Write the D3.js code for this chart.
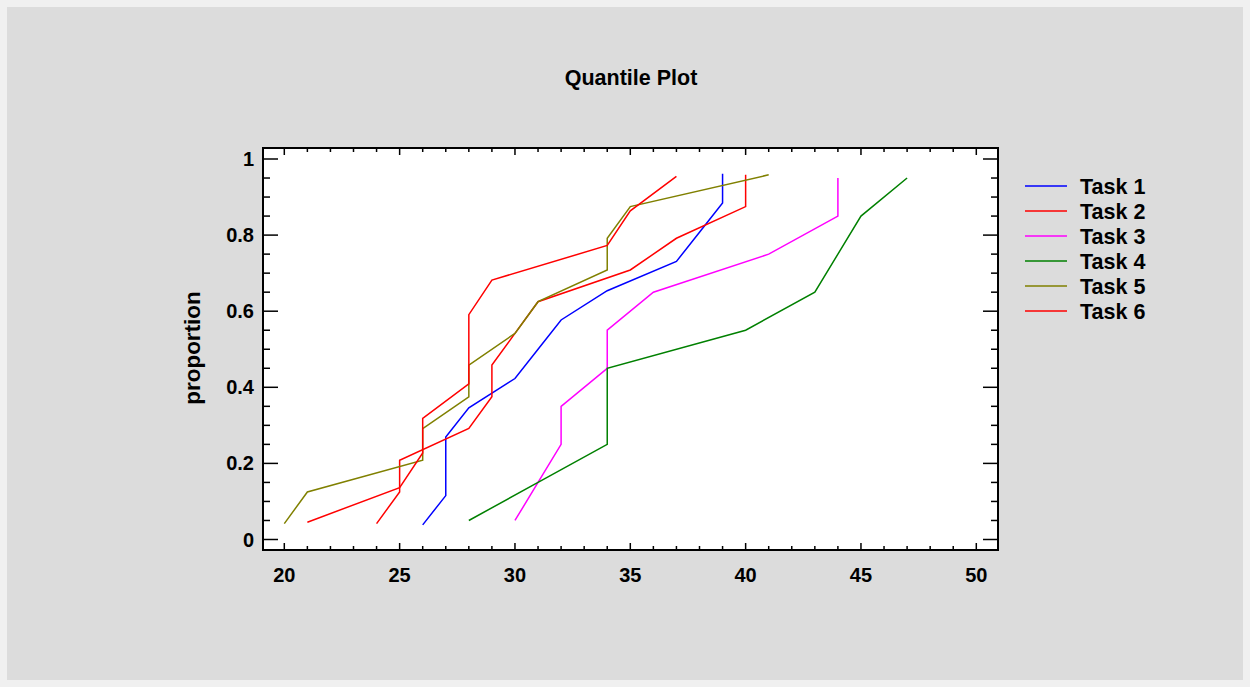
<!DOCTYPE html>
<html lang="en">
<head>
  <meta charset="UTF-8">
  <title>Quantile Plot</title>
  <style type="text/css">
    body {
      margin: 0;
      background: #f0f0f0;
    }
    svg text {
      font-family: "Liberation Sans", Arial, sans-serif;
      font-weight: bold;
      fill: #000;
    }
  </style>
</head>
<body>
  <svg id="chart" width="1250" height="687"></svg>

<script src="https://d3js.org/d3.v7.min.js"></script>
<script>
  // sorted observations for each task
  const task1 = [26, 27, 27, 27, 28, 30, 31, 32, 34, 37, 38, 39, 39]
  const task2 = [24, 25, 25, 28, 29, 29, 30, 31, 35, 37, 40, 40]
  const task3 = [30, 31, 32, 32, 34, 34, 36, 41, 44, 44]
  const task4 = [28, 31, 34, 34, 34, 40, 43, 44, 45, 47]
  const task5 = [20, 21, 26, 26, 28, 28, 30, 31, 34, 34, 35, 41]
  const task6 = [21, 25, 26, 26, 28, 28, 28, 29, 34, 35, 37]

  const seriesNames = ['Task 1', 'Task 2', 'Task 3', 'Task 4', 'Task 5', 'Task 6']
  const seriesColors = ['#0000ff', '#ff0000', '#ff00ff', '#008000', '#808000', '#ff0000']
  const xTicks = [20, 25, 30, 35, 40, 45, 50]
  const yTicks = [0, 0.2, 0.4, 0.6, 0.8, 1]

  const allSeries = [task1, task2, task3, task4, task5, task6]

  const svg = d3.select('#chart')

  // grey panel
  svg.append('rect')
    .attr('x', 7).attr('y', 7)
    .attr('width', 1236).attr('height', 673)
    .attr('fill', '#dcdcdc')

  const frame = { left: 263, right: 998, top: 148, bottom: 550 }

  const x = d3.scaleLinear().domain([20, 50]).range([284.3, 976.3])
  const y = d3.scaleLinear().domain([0, 1]).range([539.5, 159])

  svg.append('rect')
    .attr('x', frame.left).attr('y', frame.top)
    .attr('width', frame.right - frame.left)
    .attr('height', frame.bottom - frame.top)
    .attr('fill', '#fff')

  // ticks
  const ticks = svg.append('g').attr('stroke', '#000').attr('stroke-width', 1.5)
  const xMinor = d3.range(20, 51, 1)
  xMinor.forEach(v => {
    const len = v % 5 === 0 ? 7 : 4
    ticks.append('line')
      .attr('x1', x(v)).attr('x2', x(v))
      .attr('y1', frame.bottom).attr('y2', frame.bottom - len)
    ticks.append('line')
      .attr('x1', x(v)).attr('x2', x(v))
      .attr('y1', frame.top).attr('y2', frame.top + len)
  })
  const yMinor = d3.range(0, 21).map(i => i * 0.05)
  yMinor.forEach((v, i) => {
    const len = i % 4 === 0 ? 15 : 7
    ticks.append('line')
      .attr('x1', frame.left).attr('x2', frame.left + len)
      .attr('y1', y(v)).attr('y2', y(v))
    ticks.append('line')
      .attr('x1', frame.right).attr('x2', frame.right - len)
      .attr('y1', y(v)).attr('y2', y(v))
  })

  // lines
  const line = d3.line()
    .x(d => x(d[0]))
    .y(d => y(d[1]))

  allSeries.forEach((vals, k) => {
    const n = vals.length
    const pts = vals.map((v, i) => [v, (i + 0.5) / n])
    svg.append('path')
      .datum(pts)
      .attr('d', line)
      .attr('fill', 'none')
      .attr('stroke', seriesColors[k])
      .attr('stroke-width', 1.5)
  })

  // frame
  svg.append('rect')
    .attr('x', frame.left).attr('y', frame.top)
    .attr('width', frame.right - frame.left)
    .attr('height', frame.bottom - frame.top)
    .attr('fill', 'none')
    .attr('stroke', '#000')
    .attr('stroke-width', 2)

  // tick labels
  svg.selectAll('.xlab').data(xTicks).enter().append('text')
    .attr('class', 'xlab')
    .attr('x', d => x(d))
    .attr('y', 582)
    .attr('text-anchor', 'middle')
    .attr('font-size', 20)
    .text(d => d)

  svg.selectAll('.ylab').data(yTicks).enter().append('text')
    .attr('class', 'ylab')
    .attr('x', 254)
    .attr('y', d => y(d) + 7)
    .attr('text-anchor', 'end')
    .attr('font-size', 20)
    .text(d => d)

  // title
  svg.append('text')
    .attr('x', 631).attr('y', 85)
    .attr('text-anchor', 'middle')
    .attr('font-size', 21.5)
    .text('Quantile Plot')

  svg.append('text')
    .attr('transform', 'translate(200,348) rotate(-90)')
    .attr('text-anchor', 'middle')
    .attr('font-size', 22.5)
    .text('proportion')

  // legend
  const legend = svg.append('g')
  seriesNames.forEach((name, i) => {
    const ly = 186 + i * 25
    legend.append('line')
      .attr('x1', 1025).attr('x2', 1067)
      .attr('y1', ly).attr('y2', ly)
      .attr('stroke', seriesColors[i])
      .attr('stroke-width', 1.5)
    legend.append('text')
      .attr('x', 1080).attr('y', ly + 8)
      .attr('font-size', 21.5)
      .text(name)
  })
</script>
</body>
</html>
